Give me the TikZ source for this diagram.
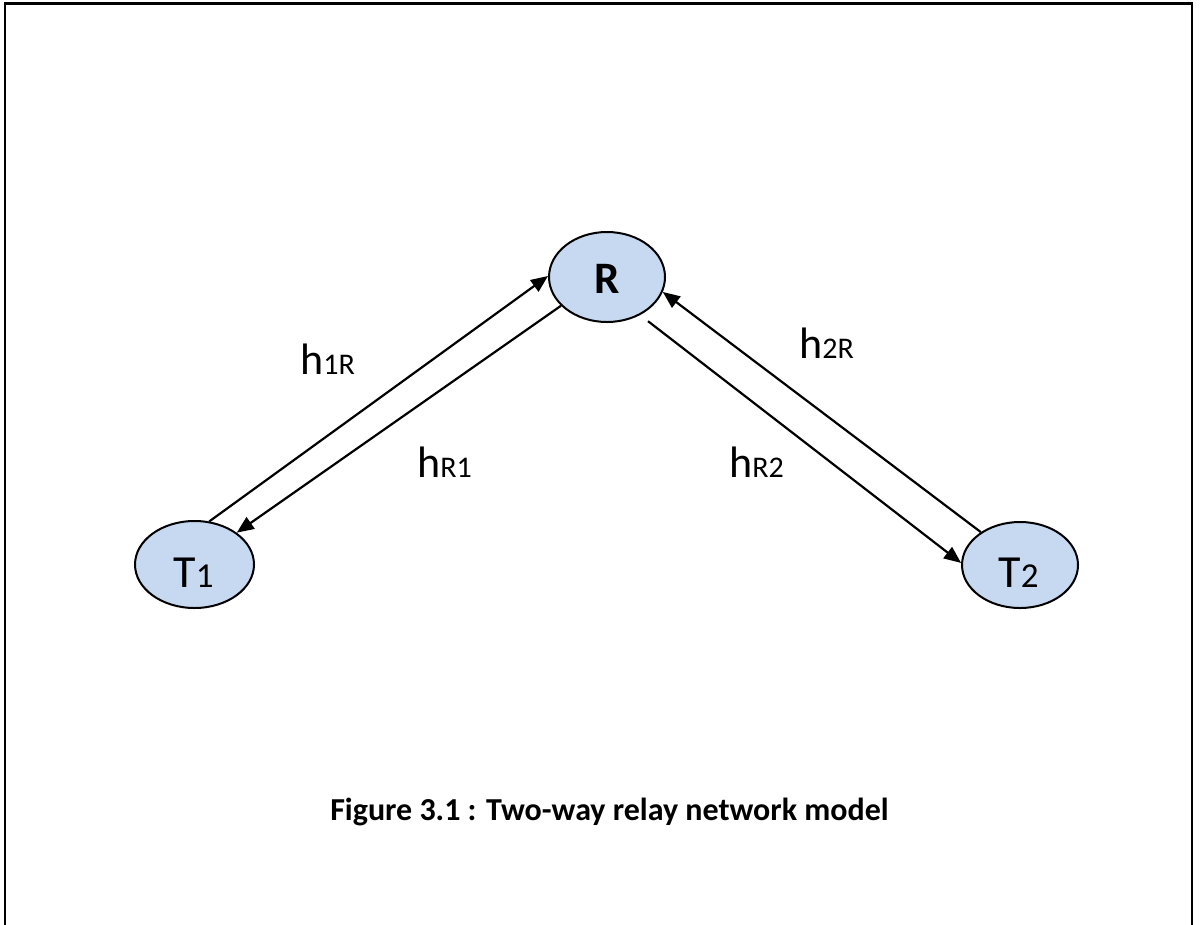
\documentclass[tikz,border=0pt]{standalone}
\usepackage{fontspec}
\setmainfont{Carlito}
\usetikzlibrary{shapes.geometric,arrows.meta}
\definecolor{nodefill}{HTML}{C6D9F1}
\begin{document}
\begin{tikzpicture}[x=1pt,y=-1pt,
  station/.style={ellipse,draw=black,line width=2pt,fill=nodefill,inner sep=0pt},
  link/.style={line width=2.2pt,-{Triangle[length=17pt,width=14pt]}},
  lbl/.style={anchor=base west,inner sep=0pt,font=\fontsize{44}{50}\selectfont},
  nodetxt/.style={anchor=base,inner sep=0pt,font=\fontsize{46}{50}\selectfont}]
\useasboundingbox (0,0) rectangle (1201,924);
\clip (0,0) rectangle (1201,924);
\draw[line width=2.5pt] (5,3.5) rectangle (1192,940);

\node[station,minimum width=116pt,minimum height=90pt] (R) at (607,277) {};
\node[station,minimum width=119pt,minimum height=87pt] (T1) at (194.5,564.5) {};
\node[station,minimum width=116pt,minimum height=86pt] (T2) at (1020,565) {};

\node[nodetxt,font=\fontsize{45}{50}\selectfont\bfseries] (Rt) at (607.5,293) {R};
\node[nodetxt] (T1t) at (193.5,587) {T{\fontsize{35}{40}\selectfont 1}};
\node[nodetxt] (T2t) at (1018.5,587) {T{\fontsize{35}{40}\selectfont 2}};

\draw[link] (T1.71) -- (R.179);
\draw[link] (R.212) -- (T1.37);
\draw[link] (T2.140) -- (R.345);
\draw[link,shorten <=10pt] (R.311) -- (T2.178);

\node[lbl] (l1R) at (300,374) {h{\fontsize{30}{34}\selectfont 1R}};
\node[lbl] (lR1) at (417,477) {h{\fontsize{30}{34}\selectfont R1}};
\node[lbl] (l2R) at (799,358) {h{\fontsize{30}{34}\selectfont 2R}};
\node[lbl] (lR2) at (729,477) {h{\fontsize{30}{34}\selectfont R2}};

\node[anchor=base,inner sep=0pt,font=\fontsize{32}{38}\selectfont\bfseries] (cap) at (609.5,820) {Figure 3.1 : Two-way relay network model};
\end{tikzpicture}
\end{document}
